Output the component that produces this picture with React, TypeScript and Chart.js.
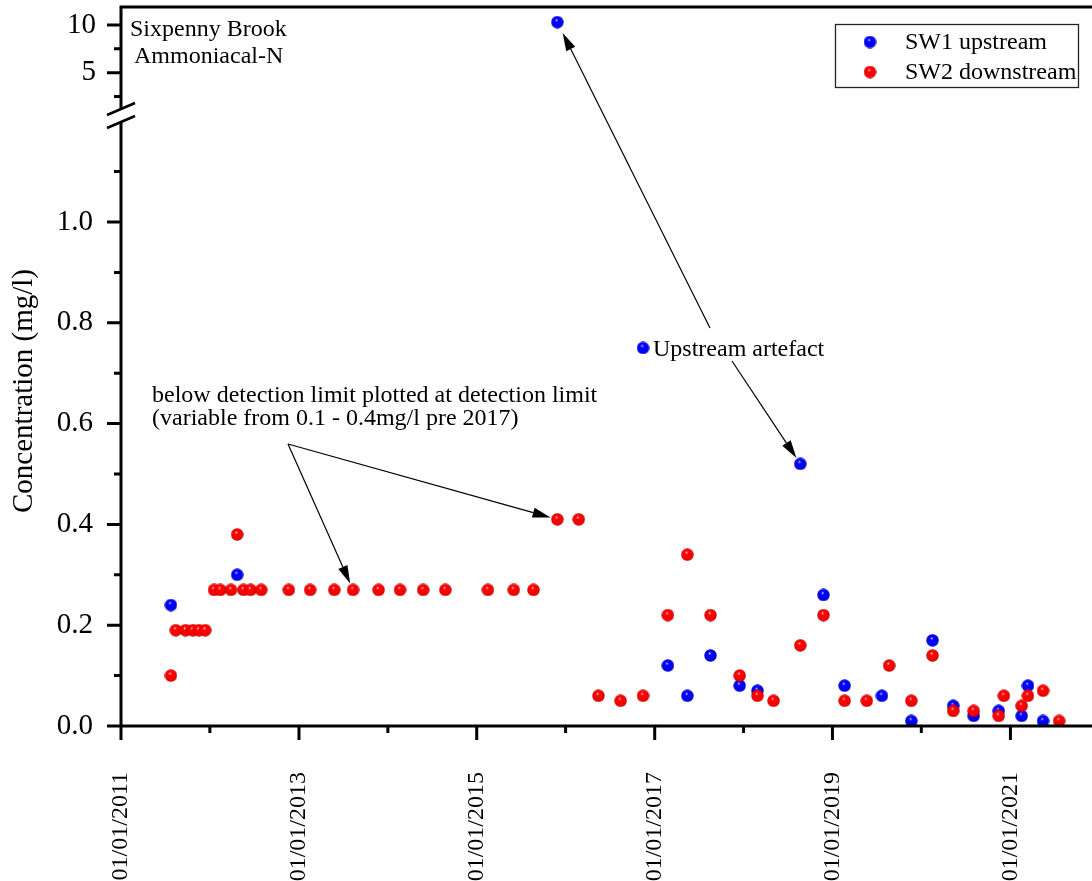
import React, { useEffect, useRef } from 'react';
import { Chart, registerables } from 'chart.js';

Chart.register(...registerables);

const DAY = 86400000;
const t = (s: string) => Date.parse(s + 'T00:00:00Z');

// ---- data ----
const sw1Dates = [
  '2011-07-25', '2012-04-22', '2016-11-14', '2017-02-24', '2017-05-15', '2017-08-18',
  '2017-12-16', '2018-02-27', '2018-08-22', '2018-11-25', '2019-02-20', '2019-07-23',
  '2019-11-21', '2020-02-16', '2020-05-11', '2020-08-03', '2020-11-14', '2021-02-16',
  '2021-03-14', '2021-05-15',
];
const sw1Values = [
  0.24, 0.30, 0.75, 0.12, 0.06, 0.14,
  0.08, 0.07, 0.52, 0.26, 0.08, 0.06,
  0.01, 0.17, 0.04, 0.02, 0.03, 0.02,
  0.08, 0.01,
];
// SW1 values above the axis break
const sw1HighDates = ['2015-11-28'];
const sw1HighValues = [10.3];

const sw2Dates = [
  '2011-07-25', '2011-08-14', '2011-09-23', '2011-10-23', '2011-11-17', '2011-12-13',
  '2012-01-18', '2012-02-13', '2012-03-28', '2012-04-22', '2012-05-18', '2012-06-16',
  '2012-07-30', '2012-11-20', '2013-02-16', '2013-05-26', '2013-08-11', '2013-11-24',
  '2014-02-20', '2014-05-26', '2014-08-25', '2015-02-16', '2015-06-02', '2015-08-22',
  '2015-11-28', '2016-02-24', '2016-05-15', '2016-08-14', '2016-11-14', '2017-02-24',
  '2017-05-15', '2017-08-18', '2017-12-16', '2018-02-27', '2018-05-04', '2018-08-22',
  '2018-11-25', '2019-02-20', '2019-05-22', '2019-08-22', '2019-11-21', '2020-02-16',
  '2020-05-11', '2020-08-03', '2020-11-14', '2020-12-05', '2021-02-16', '2021-03-14',
  '2021-05-15', '2021-07-20',
];
const sw2Values = [
  0.10, 0.19, 0.19, 0.19, 0.19, 0.19,
  0.27, 0.27, 0.27, 0.38, 0.27, 0.27,
  0.27, 0.27, 0.27, 0.27, 0.27, 0.27,
  0.27, 0.27, 0.27, 0.27, 0.27, 0.27,
  0.41, 0.41, 0.06, 0.05, 0.06, 0.22,
  0.34, 0.22, 0.10, 0.06, 0.05, 0.16,
  0.22, 0.05, 0.05, 0.12, 0.05, 0.14,
  0.03, 0.03, 0.02, 0.06, 0.04, 0.06,
  0.07, 0.01,
];

const seriesLabels = ['SW1 upstream', 'SW2 downstream'];
const xTickYears = [2011, 2013, 2015, 2017, 2019, 2021];
const xMinorYears = [2012, 2014, 2016, 2018, 2020];
const yTicks = [0, 0.2, 0.4, 0.6, 0.8, 1.0];
const yMinorTicks = [0.1, 0.3, 0.5, 0.7, 0.9, 1.1];
const yTopTicks = [5, 10];
const yTopMinorTicks = [2.5, 7.5];

const X_MIN = t('2011-01-01');
const X_MAX = X_MIN + 3988 * DAY;

const annotations = [
  { text: 'Sixpenny Brook', x: 130, y: 36 },
  { text: 'Ammoniacal-N', x: 134, y: 63 },
  { text: 'below detection limit plotted at detection limit', x: 152, y: 402 },
  { text: '(variable from 0.1 - 0.4mg/l pre 2017)', x: 152, y: 425 },
  { text: 'Upstream artefact', x: 653, y: 356 },
];
const arrows = [
  { from: [288, 444], date: '2013-08-11', value: 0.27, axis: 'y', gap: 7 },
  { from: [288, 444], date: '2015-11-28', value: 0.41, axis: 'y', gap: 7 },
  { from: [710, 328], date: '2015-11-28', value: 10.3, axis: 'yTop', gap: 12 },
  { from: [732, 361], date: '2018-08-22', value: 0.52, axis: 'y', gap: 7 },
];

const FONT = 'Liberation Serif, Times New Roman, serif';

function makeSphere(base: [number, number, number], light: string, dark: string) {
  const size = 13;
  const c = document.createElement('canvas');
  c.width = size;
  c.height = size;
  const g = c.getContext('2d')!;
  const r = size / 2 - 0.3;
  const cx = size / 2, cy = size / 2;
  const grad = g.createRadialGradient(cx - 1, cy - 2.4, 0, cx, cy, r);
  grad.addColorStop(0, light);
  grad.addColorStop(0.28, `rgb(${base.join(',')})`);
  grad.addColorStop(0.75, `rgb(${base.join(',')})`);
  grad.addColorStop(1, dark);
  g.fillStyle = grad;
  g.beginPath();
  g.arc(cx, cy, r, 0, Math.PI * 2);
  g.fill();
  return c;
}

function drawArrow(ctx: CanvasRenderingContext2D, x0: number, y0: number, x1: number, y1: number) {
  const ang = Math.atan2(y1 - y0, x1 - x0);
  const L = 18, W = 5;
  const bx = x1 - L * Math.cos(ang), by = y1 - L * Math.sin(ang);
  ctx.beginPath();
  ctx.moveTo(x0, y0);
  ctx.lineTo(bx, by);
  ctx.stroke();
  ctx.beginPath();
  ctx.moveTo(x1, y1);
  ctx.lineTo(bx + W * Math.sin(ang), by - W * Math.cos(ang));
  ctx.lineTo(bx - W * Math.sin(ang), by + W * Math.cos(ang));
  ctx.closePath();
  ctx.fill();
}

const zeroPad = (s: any) => {
  s.paddingTop = 0;
  s.paddingBottom = 0;
  s.paddingLeft = 0;
  s.paddingRight = 0;
};

export default function App() {
  const ref = useRef<HTMLCanvasElement>(null);

  useEffect(() => {
    document.body.style.margin = '0';
    document.body.style.overflow = 'hidden';
    const blue = makeSphere([0, 0, 255], 'rgb(225,225,255)', 'rgb(0,0,175)');
    const red = makeSphere([255, 0, 0], 'rgb(255,225,225)', 'rgb(185,0,0)');
    const sphereFor = [blue, red];

    const decor = {
      id: 'decor',
      afterDraw(chart: any) {
        const ctx: CanvasRenderingContext2D = chart.ctx;
        const xs = chart.scales.x, ys = chart.scales.y, yt = chart.scales.yTop;
        const L = chart.chartArea.left, R = chart.chartArea.right;
        const T = chart.chartArea.top, B = chart.chartArea.bottom;
        const brk = ys.top;
        ctx.save();
        ctx.strokeStyle = '#000';
        ctx.fillStyle = '#000';
        ctx.lineCap = 'butt';
        // axis lines
        ctx.lineWidth = 3;
        ctx.beginPath();
        ctx.moveTo(L - 1.5, B); ctx.lineTo(R, B);
        ctx.moveTo(L, T); ctx.lineTo(R, T);
        ctx.moveTo(L, T - 1.5); ctx.lineTo(L, brk - 7);
        ctx.moveTo(L, brk + 6); ctx.lineTo(L, B);
        ctx.stroke();
        // break marks
        ctx.lineWidth = 2.5;
        ctx.beginPath();
        ctx.moveTo(L - 14, brk - 1); ctx.lineTo(L + 14, brk - 13);
        ctx.moveTo(L - 14, brk + 12); ctx.lineTo(L + 14, brk);
        ctx.stroke();
        // ticks
        ctx.lineWidth = 3;
        ctx.beginPath();
        const yt1 = (sc: any, v: number, len: number) => {
          const p = sc.getPixelForValue(v);
          ctx.moveTo(L - len, p); ctx.lineTo(L, p);
        };
        yTicks.forEach((v) => yt1(ys, v, 14));
        yMinorTicks.forEach((v) => yt1(ys, v, 7));
        yTopTicks.forEach((v) => yt1(yt, v, 14));
        yTopMinorTicks.forEach((v) => yt1(yt, v, 7));
        const xt1 = (yr: number, len: number) => {
          const p = xs.getPixelForValue(Date.UTC(yr, 0, 1));
          ctx.moveTo(p, B); ctx.lineTo(p, B + len);
        };
        xTickYears.forEach((y) => xt1(y, 14));
        xMinorYears.forEach((y) => xt1(y, 7));
        ctx.stroke();

        // axis title
        ctx.save();
        ctx.translate(24, 391);
        ctx.rotate(-Math.PI / 2);
        ctx.font = `29px ${FONT}`;
        ctx.textAlign = 'center';
        ctx.textBaseline = 'middle';
        ctx.fillText('Concentration (mg/l)', 0, 0);
        ctx.restore();

        // annotations
        ctx.font = `24px ${FONT}`;
        ctx.textAlign = 'left';
        ctx.textBaseline = 'alphabetic';
        annotations.forEach((a) => ctx.fillText(a.text, a.x, a.y));

        // arrows
        ctx.lineWidth = 1.2;
        arrows.forEach((a) => {
          const px = xs.getPixelForValue(t(a.date));
          const py = chart.scales[a.axis].getPixelForValue(a.value);
          const [x0, y0] = a.from;
          const dx = px - x0, dy = py - y0;
          const d = Math.hypot(dx, dy);
          drawArrow(ctx, x0, y0, px - (dx / d) * a.gap, py - (dy / d) * a.gap);
        });

        // legend
        const bw = 243, bh = 63;
        const bx = R - 14 - bw, by = T + 17;
        ctx.lineWidth = 1.3;
        ctx.strokeStyle = '#222';
        ctx.strokeRect(bx + 0.5, by + 0.5, bw, bh);
        ctx.textBaseline = 'middle';
        seriesLabels.forEach((lab, i) => {
          const cy = by + 18 + i * 30;
          const img = sphereFor[i];
          ctx.drawImage(img, bx + 35 - img.width / 2, cy - img.height / 2);
          ctx.fillStyle = '#000';
          ctx.fillText(lab, bx + 70, cy + 1);
        });
        ctx.restore();
      },
    };

    const chart = new Chart(ref.current!, {
      type: 'scatter',
      data: {
        datasets: [
          {
            label: seriesLabels[1],
            data: sw2Dates.map((d, i) => ({ x: t(d), y: sw2Values[i] })),
            yAxisID: 'y',
            pointStyle: red as any,
            pointRadius: 6,
            order: 0,
          },
          {
            label: seriesLabels[0],
            data: sw1Dates.map((d, i) => ({ x: t(d), y: sw1Values[i] })),
            yAxisID: 'y',
            pointStyle: blue as any,
            pointRadius: 6,
            order: 1,
          },
          {
            label: seriesLabels[0] + ' (above break)',
            data: sw1HighDates.map((d, i) => ({ x: t(d), y: sw1HighValues[i] })),
            yAxisID: 'yTop',
            pointStyle: blue as any,
            pointRadius: 6,
            order: 1,
          },
        ],
      },
      options: {
        animation: false,
        responsive: false,
        events: [],
        layout: { autoPadding: false, padding: { top: 7, right: 0, bottom: 0, left: 0 } },
        plugins: { legend: { display: false }, tooltip: { enabled: false } },
        scales: {
          x: {
            type: 'linear',
            min: X_MIN,
            max: X_MAX,
            grid: { display: false },
            border: { display: false },
            afterFit: (s: any) => { s.height = 155; zeroPad(s); },
            afterBuildTicks: (s: any) => {
              s.ticks = xTickYears.map((y) => ({ value: Date.UTC(y, 0, 1) }));
            },
            ticks: {
              autoSkip: false,
              minRotation: 90,
              maxRotation: 90,
              padding: 38,
              color: '#000',
              font: { family: FONT, size: 24 },
              callback: (v: any) => {
                const d = new Date(Number(v));
                return `01/01/${d.getUTCFullYear()}`;
              },
            },
          },
          y: {
            type: 'linear',
            position: 'left',
            stack: 'conc',
            stackWeight: 610,
            min: 0,
            max: 1.2103,
            grid: { display: false },
            border: { display: false },
            afterFit: (s: any) => { s.width = 121; zeroPad(s); },
            afterBuildTicks: (s: any) => { s.ticks = yTicks.map((v) => ({ value: v })); },
            ticks: {
              padding: 20,
              color: '#000',
              font: { family: FONT, size: 29 },
              callback: (v: any) => Number(v).toFixed(1),
            },
          },
          yTop: {
            type: 'linear',
            position: 'left',
            stack: 'conc',
            stackWeight: 109,
            min: 0.46,
            max: 11.89,
            grid: { display: false },
            border: { display: false },
            afterFit: (s: any) => { s.width = 121; zeroPad(s); },
            afterBuildTicks: (s: any) => { s.ticks = yTopTicks.map((v) => ({ value: v })); },
            ticks: {
              padding: 17,
              color: '#000',
              font: { family: FONT, size: 29 },
              callback: (v: any) => String(v),
            },
          },
        },
      },
      plugins: [decor],
    });
    return () => chart.destroy();
  }, []);

  return <canvas ref={ref} width={1092} height={881} style={{ display: 'block' }} />;
}
